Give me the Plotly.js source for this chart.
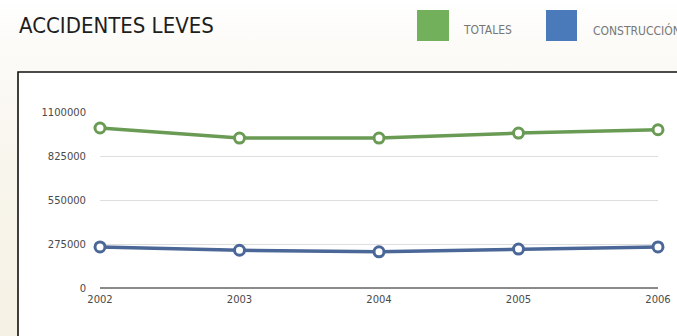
<!DOCTYPE html>
<html>
<head>
<meta charset="utf-8">
<script src="https://cdn.plot.ly/plotly-3.0.1.min.js"></script>
<style>html,body{margin:0;padding:0;background:#f8f5ed;}#chart{width:677px;height:336px;}</style>
</head>
<body>
<div id="chart"></div>
<script>
const years = [2002, 2003, 2004, 2005, 2006];
const totales = [1000000, 937000, 937000, 968000, 989000];
const construccion = [257000, 236000, 226000, 243000, 257000];
const seriesNames = ["TOTALES", "CONSTRUCCIÓN"];
const yTicks = [0, 275000, 550000, 825000, 1100000];
const chartTitle = "ACCIDENTES LEVES";

const W = 677, H = 336, L = 100, R = 19, T = 112, B = 48;
const pw = W - L - R, ph = H - T - B;
const px = v => (v - L) / pw;
const py = v => (H - B - v) / ph;

const greenLine = "#6a9b54", blueLine = "#4a6797";
const greenSq = "#72b05c", blueSq = "#4a7aba";

const bgSvg = '<svg xmlns="http://www.w3.org/2000/svg" width="677" height="336" preserveAspectRatio="none">' +
  '<defs><linearGradient id="g" x1="0" y1="0" x2="0" y2="1">' +
  '<stop offset="0" stop-color="#ffffff"/><stop offset="0.12" stop-color="#fcfbf8"/>' +
  '<stop offset="0.5" stop-color="#f8f5ec"/><stop offset="1" stop-color="#f5f1e4"/></linearGradient></defs>' +
  '<rect width="677" height="336" fill="url(#g)"/></svg>';
const bgSrc = "data:image/svg+xml;base64," + btoa(bgSvg);

const traces = [
  {x: years, y: totales, name: seriesNames[0], type: "scatter", mode: "lines+markers",
   line: {color: greenLine, width: 3.5},
   marker: {symbol: "circle", size: 10, color: "#ffffff", line: {color: greenLine, width: 3}},
   cliponaxis: false},
  {x: years, y: construccion, name: seriesNames[1], type: "scatter", mode: "lines+markers",
   line: {color: blueLine, width: 3.5},
   marker: {symbol: "circle", size: 10, color: "#ffffff", line: {color: blueLine, width: 3}},
   cliponaxis: false}
];

const tickFont = {family: "DejaVu Sans", size: 10, color: "#4a4a4a"};
const narrow = "Liberation Sans Narrow, DejaVu Sans Condensed, sans-serif";

const layout = {
  width: W, height: H,
  margin: {l: L, r: R, t: T, b: B, pad: 0},
  paper_bgcolor: "#f8f5ed",
  plot_bgcolor: "rgba(0,0,0,0)",
  showlegend: false,
  title: {text: chartTitle, x: 19 / W, xanchor: "left", xref: "container",
          y: 1 - 25 / H, yanchor: "middle", yref: "container",
          font: {family: narrow, size: 22, color: "#1e1e1e"}},
  xaxis: {range: [2002, 2006], tickvals: years, ticktext: years.map(String), showgrid: false,
          zeroline: false, showline: false, ticks: "", tickfont: tickFont, ticklabelstandoff: 4, fixedrange: true},
  yaxis: {range: [0, 1100000], tickvals: yTicks, ticktext: yTicks.map(String), showgrid: true,
          gridcolor: "#dedede", gridwidth: 1, zeroline: true, zerolinecolor: "#8a8a8a", zerolinewidth: 2,
          showline: false, ticks: "", tickfont: tickFont, ticklabelstandoff: 13, fixedrange: true},
  images: [
    {source: bgSrc, xref: "paper", yref: "paper", x: px(0), y: py(0), sizex: W / pw, sizey: H / ph,
     xanchor: "left", yanchor: "top", sizing: "stretch", layer: "below"}
  ],
  shapes: [
    {type: "rect", xref: "paper", yref: "paper", x0: px(18), x1: px(720), y0: py(400), y1: py(72),
     fillcolor: "#ffffff", line: {color: "#111111", width: 1.6}, layer: "below"},
    {type: "rect", xref: "paper", yref: "paper", x0: px(417), x1: px(449), y0: py(41), y1: py(10),
     fillcolor: greenSq, line: {width: 0}},
    {type: "rect", xref: "paper", yref: "paper", x0: px(546), x1: px(577), y0: py(41), y1: py(10),
     fillcolor: blueSq, line: {width: 0}}
  ],
  annotations: [
    {text: seriesNames[0], xref: "paper", yref: "paper", x: px(461), y: py(30), xanchor: "left", yanchor: "middle",
     showarrow: false, font: {family: narrow, size: 12, color: "#777777"}},
    {text: seriesNames[1], xref: "paper", yref: "paper", x: px(591), y: py(30), xanchor: "left", yanchor: "middle",
     showarrow: false, font: {family: narrow, size: 12, color: "#777777"}}
  ]
};

Plotly.newPlot("chart", traces, layout, {displayModeBar: false, staticPlot: true});
</script>
</body>
</html>
